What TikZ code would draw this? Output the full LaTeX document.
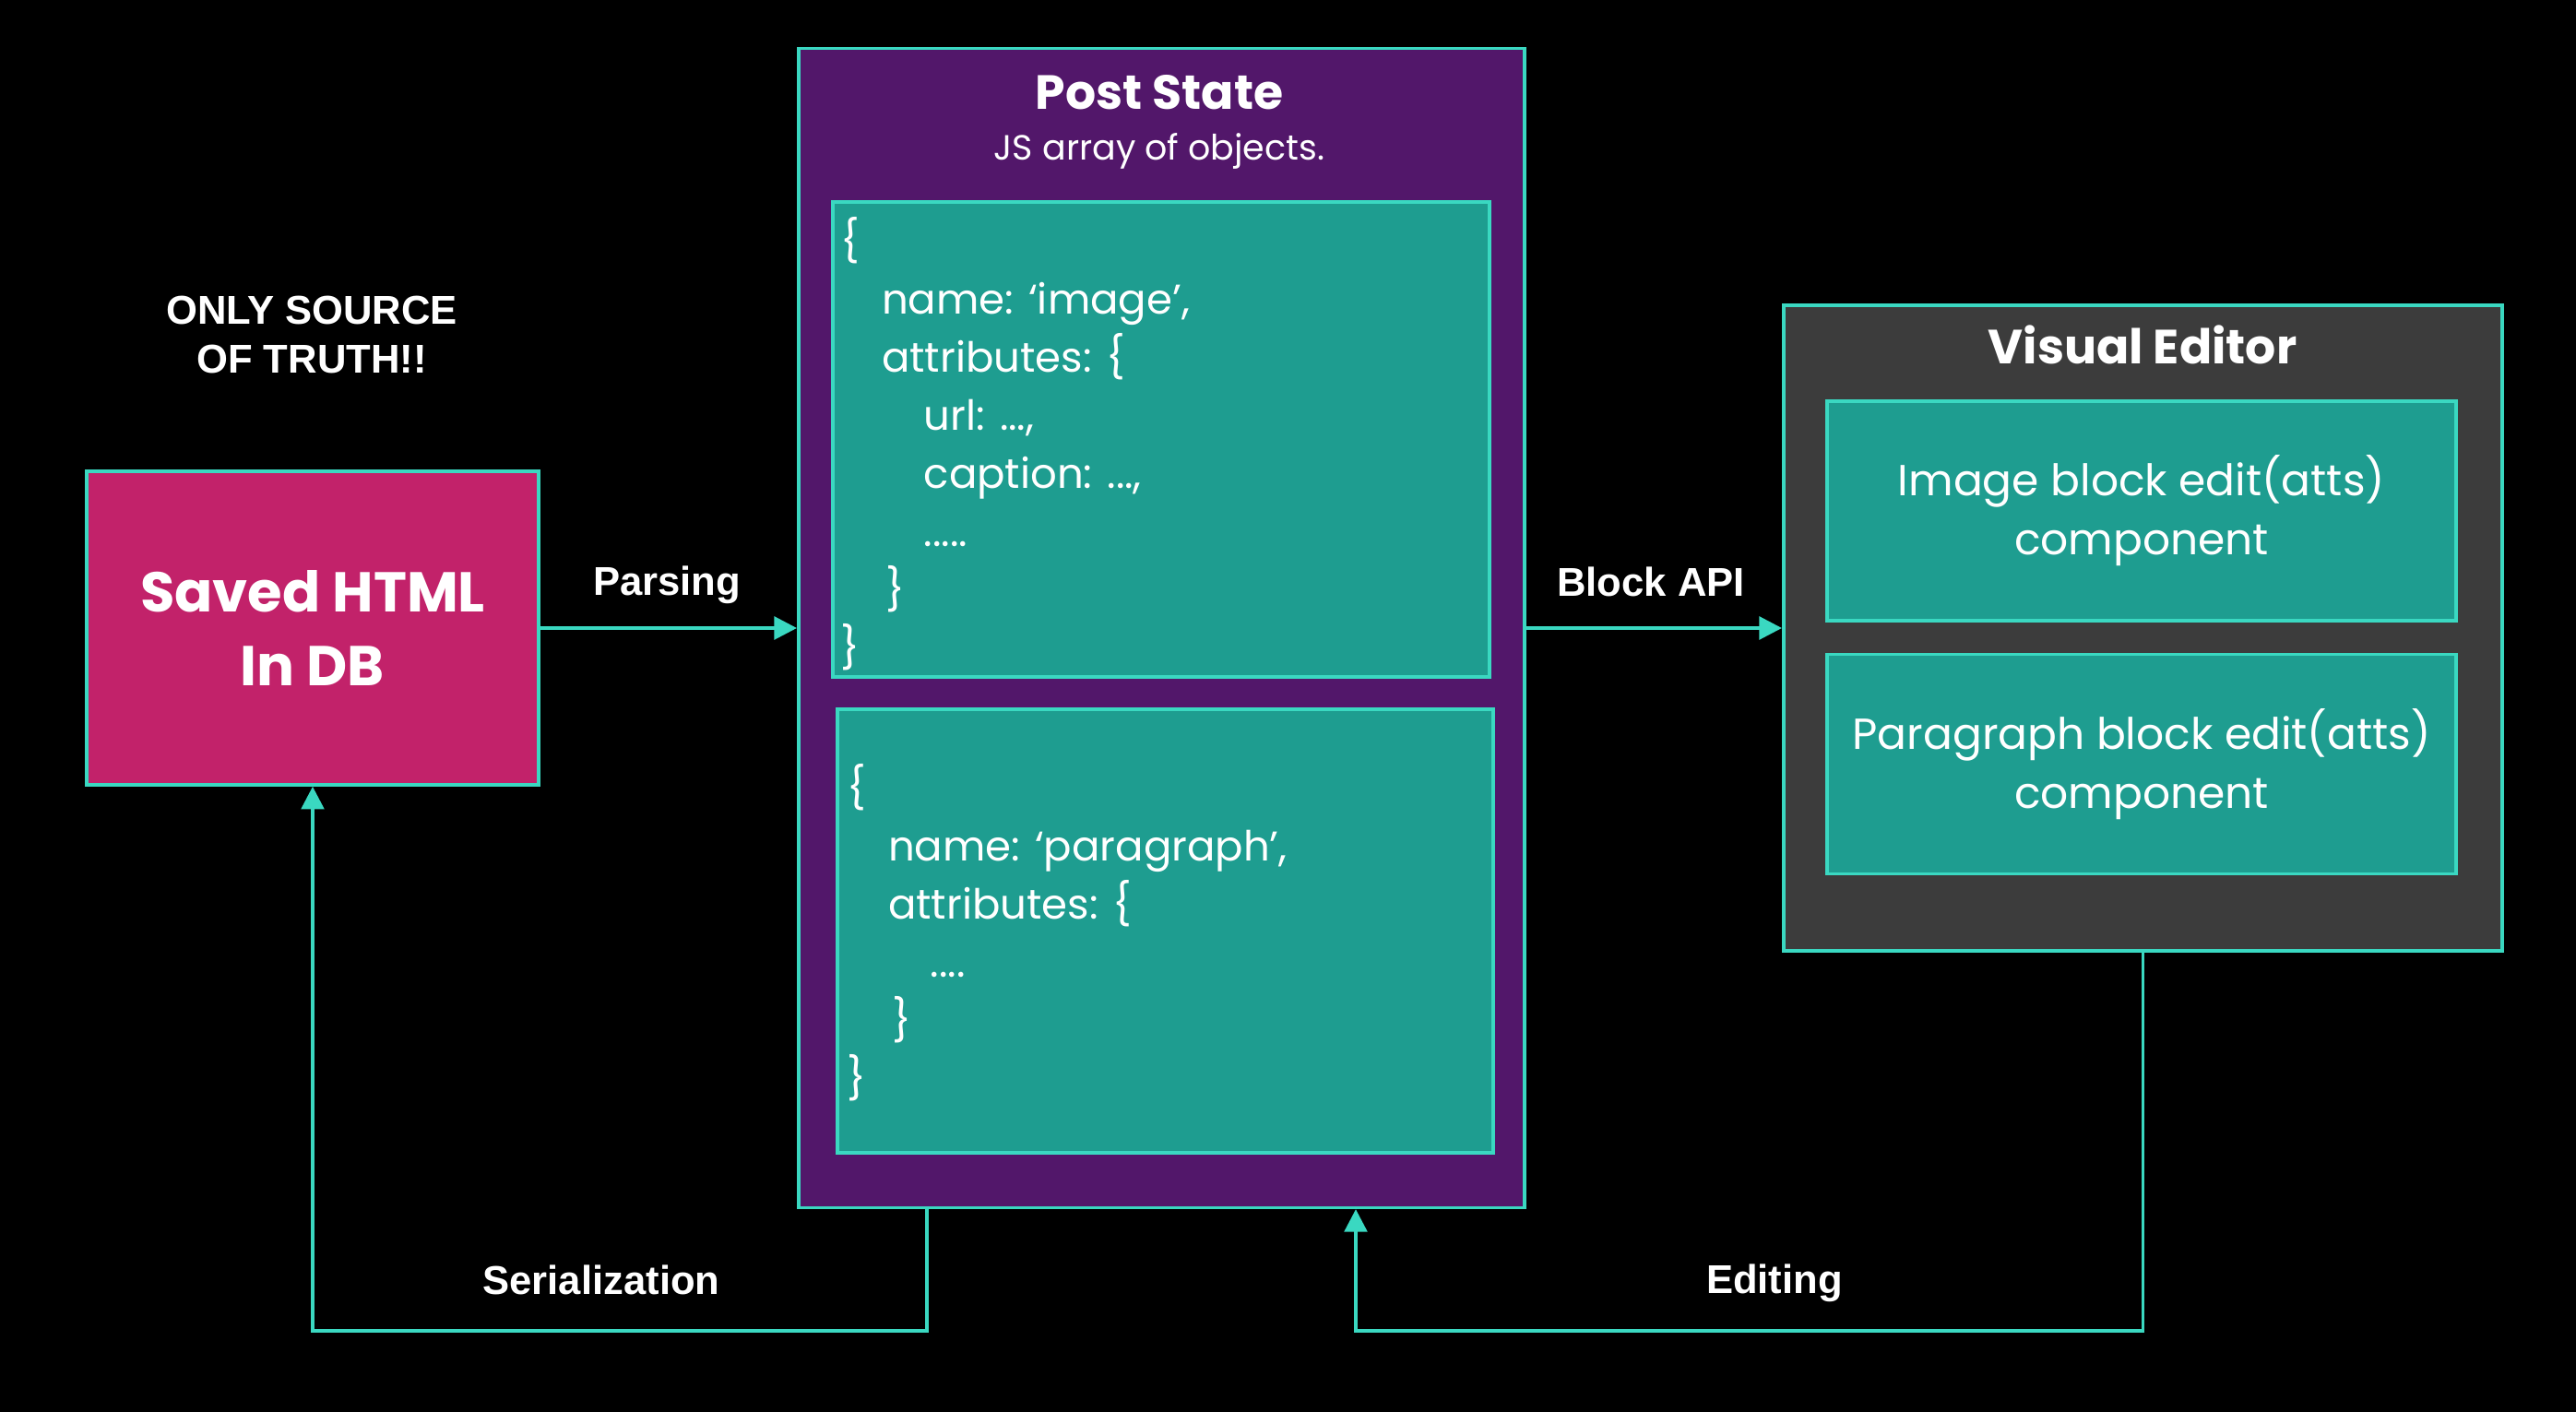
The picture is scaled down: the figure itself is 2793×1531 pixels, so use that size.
\documentclass[tikz,border=0pt]{standalone}
\usepackage{fontspec}
\setmainfont{Poppins}
\newfontfamily\arialfont{Liberation Sans}
\usetikzlibrary{arrows.meta,positioning}

\definecolor{savedpink}{HTML}{C2226A}
\definecolor{postpurple}{HTML}{52176A}
\definecolor{blockteal}{HTML}{1E9D90}
\definecolor{lineteal}{HTML}{3AD8C1}
\definecolor{editorgray}{HTML}{3C3C3C}

\tikzset{
  box/.style={draw=lineteal, line width=1pt, rectangle, inner sep=0pt, text=white},
  flow/.style={draw=lineteal, line width=1.1pt, -{Triangle[length=7pt,width=7pt]}},
  edgelabel/.style={text=white, font=\arialfont\bfseries\fontsize{12.4}{15}\selectfont},
  title/.style={text=white, font=\bfseries\fontsize{14.8}{17}\selectfont},
  code/.style={text=white, font=\fontsize{12.8}{17.9}\selectfont, align=left, anchor=north west, inner sep=0pt},
  compo/.style={box, fill=blockteal, minimum width=6.82cm, minimum height=2.38cm, align=center, font=\fontsize{13.4}{18.2}\selectfont},
}

\begin{document}
\begin{tikzpicture}[x=0.01cm, y=-0.01cm]
\fill[black] (0,0) rectangle (2793,1531);
\useasboundingbox (0,0) rectangle (2793,1531);

% saved html
\node[box, fill=savedpink, minimum width=4.9cm, minimum height=3.4cm, align=center,
  font=\bfseries\fontsize{17.3}{22.8}\selectfont] (saved) at (339,681) {Saved HTML\\In DB};
\node[edgelabel, align=center] (truth) at (338,363) {ONLY SOURCE\\OF TRUTH!!};

% post state
\node[box, fill=postpurple, minimum width=7.87cm, minimum height=12.56cm] (post) at (1259.5,681) {};
\node[title] (posttitle) at (1257,100) {Post State};
\node[text=white, font=\fontsize{10.8}{13}\selectfont] (postsub) at (1257,164) {JS array of objects.};

\node[box, fill=blockteal, minimum width=7.12cm, minimum height=5.15cm] (obj1) at (1259,476.5) {};
\node[code] (obj1txt) at (911,235) {\{\\
\hspace*{12.6pt}name: ‘image’,\\
\hspace*{12.6pt}attributes: \{\\
\hspace*{25.6pt}url: ...,\\
\hspace*{25.6pt}caption: ...,\\
\hspace*{25.6pt}.....\\
\hspace*{14pt}\}\\
\}};

\node[box, fill=blockteal, minimum width=7.11cm, minimum height=4.81cm] (obj2) at (1263.5,1009.5) {};
\node[code] (obj2txt) at (918,828) {\{\\
\hspace*{12.6pt}name: ‘paragraph’,\\
\hspace*{12.6pt}attributes: \{\\
\hspace*{25.6pt}....\\
\hspace*{14pt}\}\\
\}};

% visual editor
\node[box, fill=editorgray, minimum width=7.79cm, minimum height=7cm] (editor) at (2323.5,681) {};
\node[title] (editortitle) at (2323,374) {Visual Editor};
\node[compo] (imgblock) at (2322,554) {Image block edit(atts)\\component};
\node[compo] (parblock) at (2322,828.5) {Paragraph block edit(atts)\\component};

% connectors
\coordinate (serx) at (1005,1443);
\coordinate (edx) at (1470,1443);

\draw[flow] (saved.east) -- (post.west);
\draw[flow] (post.east) -- (editor.west);
\draw[flow] (serx |- post.south) -- (serx) -| (saved.south);
\draw[flow] (editor.south) |- (edx) -- (edx |- post.south);

\node[edgelabel] (parsing) at (723,634) {Parsing};
\node[edgelabel] (blockapi) at (1790,631) {Block API};
\node[edgelabel] (serial) at (652,1388) {Serialization};
\node[edgelabel] (editing) at (1924,1391) {Editing};
\end{tikzpicture}
\end{document}
